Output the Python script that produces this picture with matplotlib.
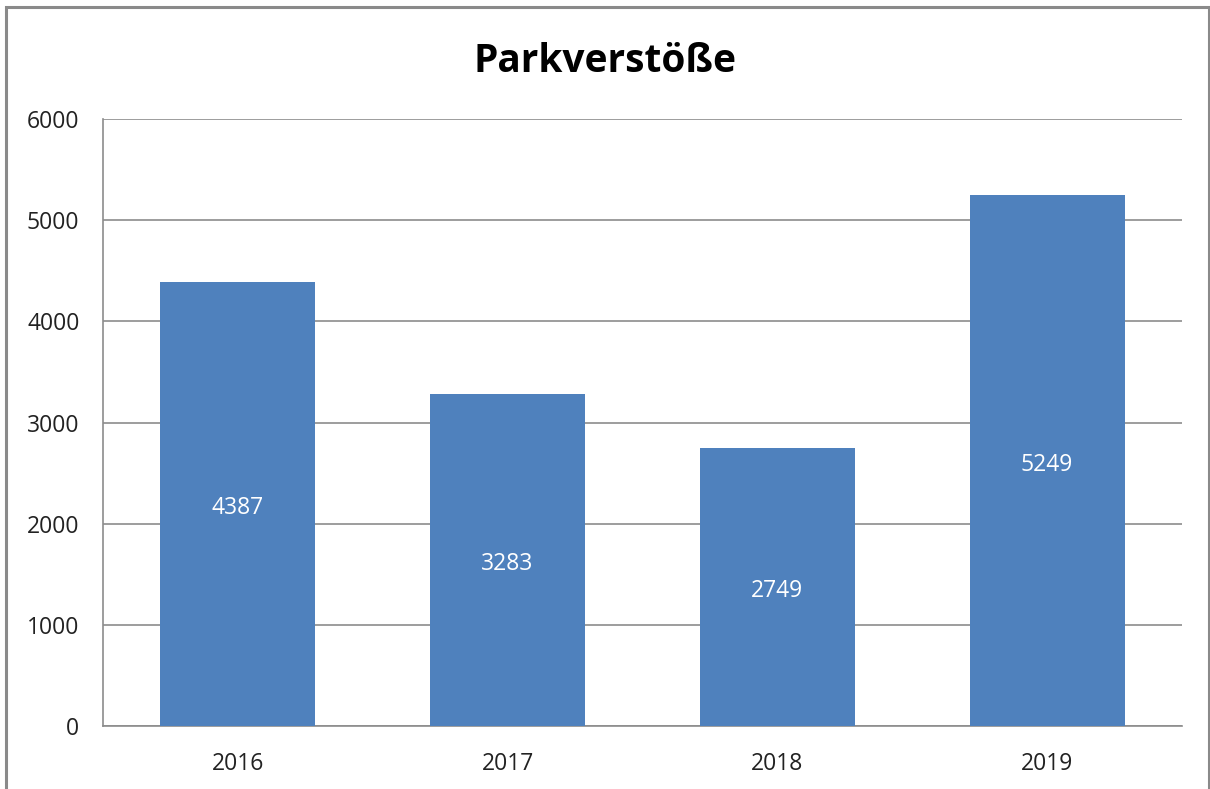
import matplotlib.pyplot as plt
from matplotlib.patches import Rectangle

years = ['2016', '2017', '2018', '2019']
counts = [4387, 3283, 2749, 5249]
y_ticks = [0, 1000, 2000, 3000, 4000, 5000, 6000]

plt.rcParams['font.family'] = ['Open Sans', 'DejaVu Sans']

fig = plt.figure(figsize=(12.1, 7.89), dpi=100)
fig.patch.set_facecolor('white')

# outer chart frame (bottom edge runs off the picture)
fig.patches.append(Rectangle((6 / 1210, -0.05), 1203 / 1210, 1.05 - 7 / 789,
                             transform=fig.transFigure, fill=False,
                             edgecolor='#8a8a8a', linewidth=2.2))

ax = fig.add_axes([103 / 1210, 1 - 726 / 789, 1079 / 1210, 607 / 789])
x = range(len(years))
bars = ax.bar(x, counts, width=0.575, color='#4F81BD', zorder=3)

for b, v in zip(bars, counts):
    ax.annotate(str(v), (b.get_x() + b.get_width() / 2, v / 2),
                xytext=(0, -3), textcoords='offset points',
                ha='center', va='center', color='white', fontsize=16.5, zorder=4)

ax.set_xlim(-0.5, len(years) - 0.5)
ax.set_ylim(0, 6000)
ax.set_yticks(y_ticks)
ax.set_xticks(list(x))
ax.set_xticklabels(years)
ax.tick_params(length=0, labelsize=16.5, colors='#222222')
ax.tick_params(axis='y', pad=17)
ax.tick_params(axis='x', pad=19)
ax.yaxis.grid(True, color='#8c8c8c', linewidth=1.2, zorder=0)
for side in ['top', 'right']:
    ax.spines[side].set_visible(False)
for side in ['left', 'bottom']:
    ax.spines[side].set_color('#8c8c8c')
    ax.spines[side].set_linewidth(1.2)

fig.text(0.5, 1 - 62 / 789, 'Parkverstöße', ha='center', va='center',
         fontsize=28, fontweight='bold', color='black')

fig.savefig('out.png', dpi=100)
